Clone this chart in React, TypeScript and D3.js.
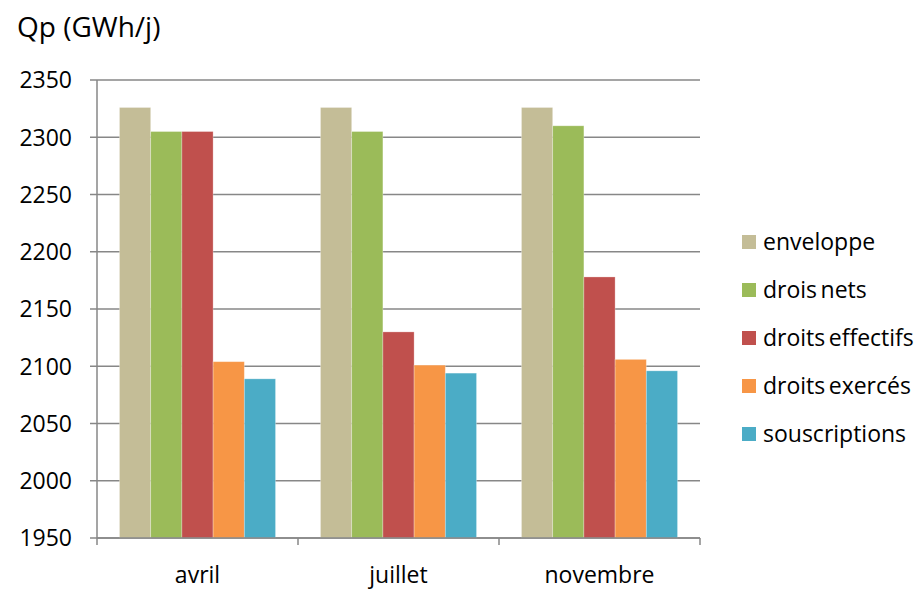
import React from "react";
import * as d3 from "d3";

const categories = ["avril", "juillet", "novembre"];
const seriesNames = ["enveloppe", "drois nets", "droits effectifs", "droits exercés", "souscriptions"];
const enveloppe = [2326, 2326, 2326];
const droisNets = [2305, 2305, 2310];
const droitsEffectifs = [2305, 2130, 2178];
const droitsExerces = [2104, 2101, 2106];
const souscriptions = [2089, 2094, 2096];
const yTicks = [1950, 2000, 2050, 2100, 2150, 2200, 2250, 2300, 2350];
const colors = ["#C4BD97", "#9BBB59", "#C0504D", "#F79646", "#4BACC6"];

const seriesValues = [enveloppe, droisNets, droitsEffectifs, droitsExerces, souscriptions];

export default function App() {
  const W = 923, H = 591;
  const left = 97, right = 700, top = 80, bottom = 538;
  const font = "'Open Sans', 'Noto Sans', sans-serif";

  const y = d3.scaleLinear().domain([1950, 2350]).range([bottom, top]);
  const x0 = d3.scaleBand<string>().domain(categories).range([left, right]).padding(0);
  const x1 = d3
    .scaleBand<string>()
    .domain(seriesNames)
    .range([0, x0.bandwidth()])
    .paddingInner(0)
    .paddingOuter(0.72);

  const gridColor = "#878787";

  return (
    <svg width={W} height={H} style={{ position: "absolute", left: 0, top: 0, background: "#fff" }}>
      <text x={17} y={37} fontFamily={font} fontSize={28} fill="#000">Qp (GWh/j)</text>

      {yTicks.map((t) => (
        <g key={t}>
          <line x1={left - 7} x2={right} y1={y(t)} y2={y(t)} stroke={gridColor} strokeWidth={1.5} />
          <text x={72} y={y(t)} dy="0.36em" textAnchor="end" fontFamily={font} fontSize={23} fill="#000">
            {t}
          </text>
        </g>
      ))}

      {categories.map((c, ci) => (
        <g key={c}>
          {seriesNames.map((s, si) => {
            const v = seriesValues[si][ci];
            const bx = (x0(c) as number) + (x1(s) as number);
            return (
              <rect
                key={s}
                x={bx}
                y={y(v)}
                width={x1.bandwidth()}
                height={y(1950) - y(v)}
                fill={colors[si]}
                stroke="rgba(255,255,255,0.35)"
                strokeWidth={0.8}
              />
            );
          })}
          <text
            x={(x0(c) as number) + x0.bandwidth() / 2}
            y={583}
            textAnchor="middle"
            fontFamily={font}
            fontSize={23}
            fill="#000"
          >
            {c}
          </text>
        </g>
      ))}

      <line x1={left} x2={left} y1={top} y2={bottom} stroke={gridColor} strokeWidth={1.5} />
      <line x1={left} x2={right} y1={bottom} y2={bottom} stroke={gridColor} strokeWidth={1.5} />
      {[...categories.map((c) => x0(c) as number), right].map((tx, i) => (
        <line key={i} x1={tx} x2={tx} y1={bottom} y2={bottom + 7} stroke={gridColor} strokeWidth={1.5} />
      ))}

      {seriesNames.map((s, i) => {
        const cy = 242 + i * 48;
        return (
          <g key={s}>
            <rect x={742} y={cy - 7} width={14} height={14} fill={colors[i]} />
            <text x={763} y={cy} dy="0.36em" fontFamily={font} fontSize={23} wordSpacing={-2.5} fill="#000">
              {s}
            </text>
          </g>
        );
      })}
    </svg>
  );
}
